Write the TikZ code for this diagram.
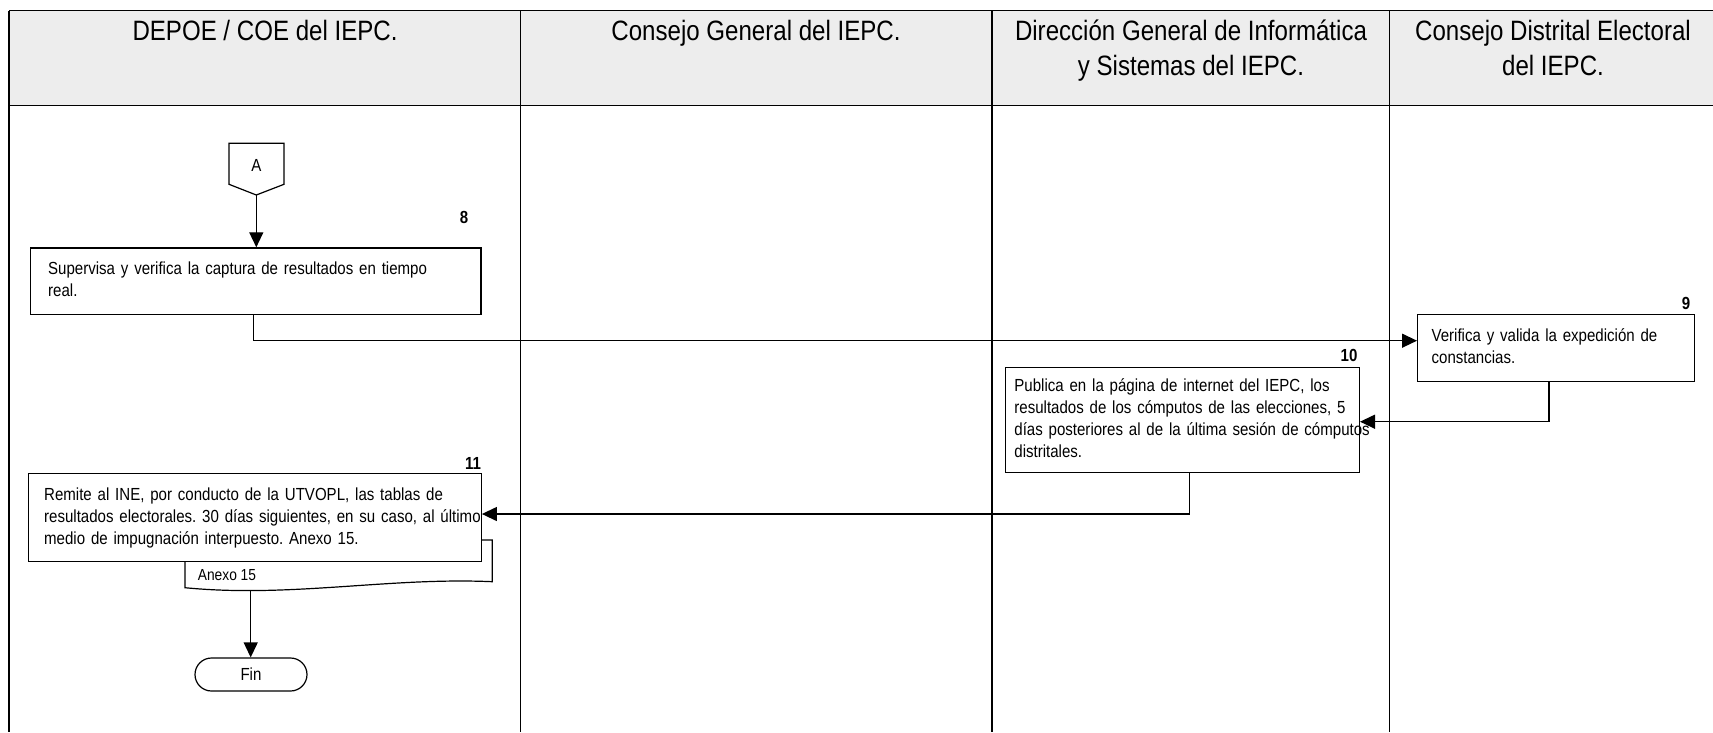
\documentclass[tikz,border=0pt]{standalone}
\usepackage{fontspec}
\setmainfont{Liberation Sans}[FakeStretch=0.86]
\usetikzlibrary{arrows.meta}
\definecolor{hdr}{RGB}{237,237,237}
\frenchspacing
\begin{document}
\begin{tikzpicture}[x=1pt,y=-1pt,
  lane/.style={line width=1.3pt},
  body/.style={font=\fontsize{17.5}{22}\selectfont},
  proc/.style={draw,line width=1.2pt,fill=white,anchor=north west,align=left,
    inner ysep=0pt,body},
  num/.style={font=\fontsize{17.5}{22}\selectfont\bfseries,inner sep=0pt},
  head/.style={anchor=base,inner sep=0pt,font=\fontsize{28}{35}\selectfont},
  conn/.style={line width=1.3pt,-{Triangle[length=15pt,width=14pt]}},
  shapeline/.style={line width=1.2pt}
]
\useasboundingbox (0,0) rectangle (1713,732);
% header
\fill[hdr] (9,10.7) rectangle (1713,105.3);
\draw[lane] (9,10.7) -- (1713,10.7);
\draw[lane] (9,105.3) -- (1713,105.3);
\draw[lane] (9,10.7) -- (9,732);
\draw[lane] (520.5,10.7) -- (520.5,732);
\draw[lane] (992,10.7) -- (992,732);
\draw[lane] (1389.5,10.7) -- (1389.5,732);
\node[head] (h1) at (265,40) {DEPOE / COE del IEPC.};
\node[head] (h2) at (756,40) {Consejo General del IEPC.};
\node[head] (h3) at (1191,40) {\begin{tabular}[t]{@{}c@{}}Dirección General de Informática\\y Sistemas del IEPC.\end{tabular}};
\node[head] (h4) at (1553,40) {\begin{tabular}[t]{@{}c@{}}Consejo Distrital Electoral\\del IEPC.\end{tabular}};
% off-page connector A
\draw[shapeline] (229,143.3) -- (284,143.3) -- (284,184.3) -- (256.3,195) -- (229,184.3) -- cycle;
\node[inner sep=0pt,body] (A) at (256.3,165) {A};
\coordinate (Ab) at (256.3,195);
% step 8
\node[proc,minimum width=450.7pt,minimum height=66.7pt,inner xsep=18pt,text width=414.7pt] (b8) at (29.6,247.3)
  {\begin{tabular}{@{}l@{}}Supervisa y verifica la captura de resultados en tiempo\\real.\end{tabular}};
\node[num] (n8) at (464,217) {8};
% step 9
\node[proc,minimum width=277pt,minimum height=67pt,inner xsep=14pt,text width=249pt] (b9) at (1417,314)
  {\begin{tabular}{@{}l@{}}Verifica y valida la expedición de\\constancias.\end{tabular}};
\node[num] (n9) at (1686,303) {9};
% step 10
\node[proc,minimum width=354pt,minimum height=104.7pt,inner xsep=9pt,text width=336pt] (b10) at (1004.8,367)
  {\begin{tabular}{@{}l@{}}Publica en la página de internet del IEPC, los\\resultados de los cómputos de las elecciones, 5\\días posteriores al de la última sesión de cómputos\\distritales.\end{tabular}};
\node[num] (n10) at (1349,355) {10};
% document Anexo 15
\draw[shapeline,fill=white] (185,540) -- (185,587.7)
  .. controls (290,598) and (390,577) .. (492.3,581.7) -- (492.3,540) -- cycle;
\node[anchor=base west,inner sep=0pt,font=\fontsize{16}{20}\selectfont] (anx) at (197.7,580) {Anexo 15};
\coordinate (docb) at (250.7,590.3);
% step 11
\node[proc,minimum width=452.7pt,minimum height=88pt,inner xsep=15.6pt,text width=421.5pt] (b11) at (28,473)
  {\begin{tabular}{@{}l@{}}Remite al INE, por conducto de la UTVOPL, las tablas de\\resultados electorales. 30 días siguientes, en su caso, al último\\medio de impugnación interpuesto. Anexo 15.\end{tabular}};
\node[num] (n11) at (473,463) {11};
% end
\node[draw,shapeline,rounded corners=16.5pt,minimum width=112pt,minimum height=33pt,inner sep=0pt,body] (fin) at (251,674.5) {Fin};
% connectors
\coordinate (k1) at (253.5,340.7);
\coordinate (k2) at (1549,421.7);
\coordinate (k3) at (1189.4,514);
\draw[conn] (Ab) -- (Ab |- b8.north);
\draw[conn] (k1 |- b8.south) -- (k1) -- (k1 -| b9.west);
\draw[conn] (k2 |- b9.south) -- (k2) -- (k2 -| b10.east);
\draw[conn] (k3 |- b10.south) -- (k3) -- (k3 -| b11.east);
\draw[conn] (docb) -- (docb |- fin.north);
\end{tikzpicture}
\end{document}
